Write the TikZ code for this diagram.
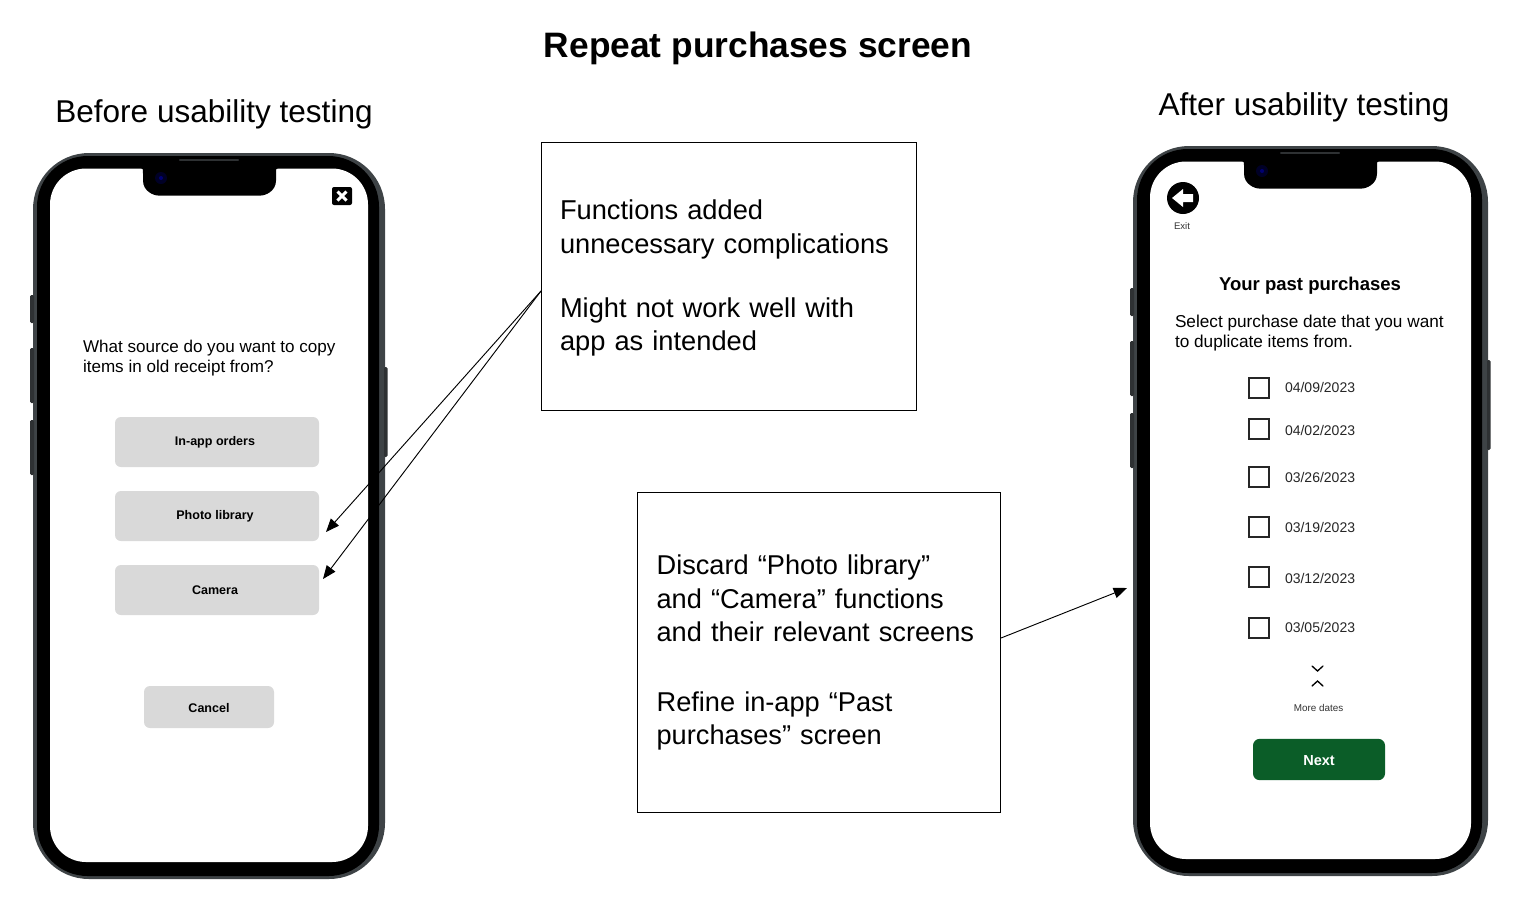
\documentclass[tikz,border=0pt]{standalone}
\usepackage{fontspec}
\setmainfont{Liberation Sans}
\usetikzlibrary{arrows.meta}
\definecolor{btn}{HTML}{D9D9D9}
\definecolor{nextg}{HTML}{0B5D28}
\definecolor{rim}{HTML}{3E4346}
\definecolor{rimb}{HTML}{2E3133}
\tikzset{
 px/.style={x=0.75pt,y=-0.75pt},
 txt/.style={inner sep=0pt,outer sep=0pt,text=black},
 greybtn/.style={fill=btn,rounded corners=4.5pt,inner sep=0pt,minimum width=153pt,minimum height=37.5pt},
 btnlabel/.style={txt,font=\fontsize{9.4pt}{11pt}\selectfont\bfseries},
 notebox/.style={draw=black,line width=0.6pt,inner sep=0pt,align=left,fill=none},
 callout/.style={draw=black,line width=0.7pt,-{Triangle[length=10pt,width=8pt]}},
 chk/.style={draw=black!85,line width=1.3pt,minimum size=14.5pt,inner sep=0pt},
 date/.style={txt,anchor=west,font=\fontsize{10.5pt}{12pt}\selectfont,text=black!85},
 chev/.style={line width=1pt,black,line cap=round},
}
\newcommand{\phone}[5]{% l t r b notchleft
 \pgfmathsetmacro{\pl}{#1}\pgfmathsetmacro{\pt}{#2}\pgfmathsetmacro{\pr}{#3}\pgfmathsetmacro{\pb}{#4}\pgfmathsetmacro{\nl}{#5}
 \pgfmathsetmacro{\slx}{\pl+17}\pgfmathsetmacro{\srx}{\pr-17}\pgfmathsetmacro{\sty}{\pt+15.5}\pgfmathsetmacro{\sby}{\pb-17}
 \pgfmathsetmacro{\bl}{\pl+4}\pgfmathsetmacro{\br}{\pr-6}\pgfmathsetmacro{\bt}{\pt+3}\pgfmathsetmacro{\bb}{\pb-3}
 \pgfmathsetmacro{\nr}{\nl+133}\pgfmathsetmacro{\nb}{\sty+27}
 \pgfmathsetmacro{\spl}{\nl+37}\pgfmathsetmacro{\spr}{\nl+95}\pgfmathsetmacro{\spy}{\pt+7}
 \pgfmathsetmacro{\cx}{\nl+18}\pgfmathsetmacro{\cy}{\pt+25}
 \pgfmathsetmacro{\nla}{\nl+15}\pgfmathsetmacro{\nra}{\nr-15}\pgfmathsetmacro{\nba}{\nb-15}
 \fill[rim,rounded corners=42pt] (\pl,\pt) rectangle (\pr,\pb);
 \fill[black,rounded corners=38pt] (\bl,\bt) rectangle (\br,\bb);
 \fill[white,rounded corners=27pt] (\slx,\sty) rectangle (\srx,\sby);
 \fill[black] (\nl-3,\sty-1) -- (\nr+3,\sty-1) .. controls (\nr,\sty) .. (\nr,\sty+5)
   -- (\nr,\nba) .. controls (\nr,\nb-4) and (\nra+4,\nb) .. (\nra,\nb) -- (\nla,\nb)
   .. controls (\nla-4,\nb) and (\nl,\nb-4) .. (\nl,\nba) -- (\nl,\sty+5) .. controls (\nl,\sty) .. (\nl-3,\sty-1) -- cycle;
 \draw[rimb,line width=1.6pt,line cap=round] (\spl,\spy) -- (\spr,\spy);
 \fill[black!85!blue] (\cx,\cy) circle[radius=6];
 \fill[blue!45!black] (\cx,\cy) circle[radius=2];
 \fill[rimb,rounded corners=1pt] (\pl-3,\pt+142) rectangle (\pl+1,\pt+170);
 \fill[rimb,rounded corners=1pt] (\pl-3,\pt+195) rectangle (\pl+1,\pt+250);
 \fill[rimb,rounded corners=1pt] (\pl-3,\pt+267) rectangle (\pl+1,\pt+322);
 \fill[rimb,rounded corners=1pt] (\pr-1,\pt+214) rectangle (\pr+2.5,\pt+304);
}
\begin{document}
\begin{tikzpicture}[px]
\useasboundingbox (0,0) rectangle (1515,901);
\node[txt] (title) at (758,48.3) {\fontsize{26.5pt}{32pt}\selectfont\bfseries Repeat purchases screen};
\node[txt] (before) at (214,114) {\fontsize{23.65pt}{30pt}\selectfont Before usability testing};
\node[txt] (after) at (1304,107) {\fontsize{23.65pt}{30pt}\selectfont After usability testing};

\phone{33}{153}{385}{879}{143}
\phone{1133}{146}{1488}{876}{1244}

% left screen
\node[fill=black,rounded corners=1.5pt,minimum width=15pt,minimum height=13.5pt,inner sep=0pt] (closeicon) at (342,196) {};
\draw[white,line width=2.2pt] (337.5,191.5) -- (346.5,200.5) (346.5,191.5) -- (337.5,200.5);
\node[txt,anchor=base west,align=left,font=\fontsize{12.8pt}{15pt}\selectfont] (q) at (83,372) {What source do you want to copy\\items in old receipt from?};
\node[greybtn] (b1) at (217,442) {};
\node[greybtn] (b2) at (217,516) {};
\node[greybtn] (b3) at (217,590) {};
\node[greybtn,minimum width=97.5pt,minimum height=31.5pt] (b4) at (209,707) {};
\node[btnlabel] (t1) at (215,442.5) {In-app orders};
\node[btnlabel] (t2) at (215,516.5) {Photo library};
\node[btnlabel] (t3) at (215,590.5) {Camera};
\node[btnlabel] (t4) at (209,708.5) {Cancel};

% right screen
\node[circle,fill=black,minimum size=24pt,inner sep=0pt] (backicon) at (1183,198) {};
\fill[white] (1172,198) -- (1183,189) -- (1183,194) -- (1193,194) -- (1193,202) -- (1183,202) -- (1183,207) -- cycle;
\node[txt,font=\fontsize{7.2pt}{9pt}\selectfont,text=black!80] (exit) at (1182,226) {Exit};
\node[txt,font=\fontsize{13.9pt}{18pt}\selectfont\bfseries] (head) at (1310,286) {Your past purchases};
\node[txt,anchor=base west,align=left,font=\fontsize{12.9pt}{15pt}\selectfont] (sel) at (1175,347) {Select purchase date that you want\\to duplicate items from.};
\foreach \n/\ya/\yb/\d in {1/388/387.5/04\slash 09\slash 2023,2/429/430.5/04\slash 02\slash 2023,3/477/477.5/03\slash 26\slash 2023,4/527/527.5/03\slash 19\slash 2023,5/577/578.5/03\slash 12\slash 2023,6/628/627.5/03\slash 05\slash 2023}{
 \node[chk] (c\n) at (1259,\ya) {};
 \node[date] (d\n) at (1285,\yb) {\d};
}
\draw[chev] (1312,666) -- (1317.5,671) -- (1323,666);
\draw[chev] (1312,686) -- (1317.5,681) -- (1323,686);
\node[txt,font=\fontsize{7.4pt}{9pt}\selectfont,text=black!80] (more) at (1318.5,708) {More dates};
\node[fill=nextg,rounded corners=5pt,minimum width=99pt,minimum height=31pt,inner sep=0pt] (next) at (1319,759.5) {};
\node[txt,text=white,font=\fontsize{10.9pt}{13pt}\selectfont\bfseries] (nextt) at (1319,761) {Next};

% note boxes
\node[notebox,minimum width=281.5pt,minimum height=201.5pt,text width=253.5pt,font=\fontsize{20.45pt}{25.2pt}\selectfont] (n1) at (729,276.5)
 {\rule{0pt}{17.4pt}Functions added\\unnecessary complications\\[22.5pt]Might not work well with\\app as intended};
\node[notebox,minimum width=272.5pt,minimum height=240pt,text width=243.6pt,font=\fontsize{20.4pt}{25.1pt}\selectfont] (n2) at (819,652.5)
 {Discard “Photo library”\\and “Camera” functions\\and their relevant screens\\[27pt]Refine in-app “Past\\purchases” screen};

\coordinate (n1out) at (541,291);
\coordinate (n2out) at (1001,638);
\coordinate (aphoto) at (326,532);
\coordinate (acam) at (323,579);
\coordinate (aright) at (1127,588);
\draw[callout] (n1out) -- (aphoto);
\draw[callout] (n1out) -- (acam);
\draw[callout] (n2out) -- (aright);
\end{tikzpicture}
\end{document}
